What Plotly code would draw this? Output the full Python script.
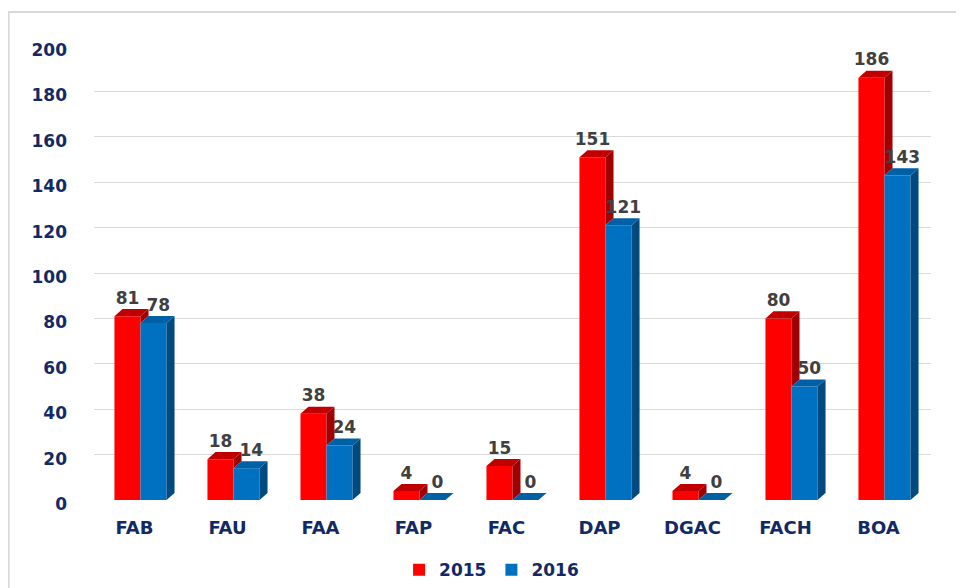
import plotly.graph_objects as go

categories = ["FAB", "FAU", "FAA", "FAP", "FAC", "DAP", "DGAC", "FACH", "BOA"]
series_names = ["2015", "2016"]
values_2015 = [81, 18, 38, 4, 15, 151, 4, 80, 186]
values_2016 = [78, 14, 24, 0, 0, 121, 0, 50, 143]
y_ticks = [0, 20, 40, 60, 80, 100, 120, 140, 160, 180, 200]

W = 0.28    # bar front width (category units)
DX = 0.086  # depth, x
DY = 3.1    # depth, y (value units)
LABEL_GAP = 0.5

NAVY = "#112A66"
styles = [
    dict(front="#FF0000", top="#C00000", side="#A00000", off=-W, lab=0.0),
    dict(front="#0070C0", top="#0060A6", side="#004A80", off=0.0, lab=DX * 0.6),
]
all_vals = [values_2015, values_2016]

fig = go.Figure()

# front faces as bars
for s, vals in enumerate(all_vals):
    st = styles[s]
    fig.add_trace(go.Bar(
        x=[i + st["off"] + W / 2 for i in range(len(categories))],
        y=vals, width=W, name=series_names[s],
        marker=dict(color=st["front"], line=dict(width=0)),
        hoverinfo="skip", showlegend=True,
    ))

# 3D side and top faces (computed from data)
for s, vals in enumerate(all_vals):
    st = styles[s]
    sx, sy, tx, ty = [], [], [], []
    for i, v in enumerate(vals):
        x0 = i + st["off"]
        x1 = x0 + W
        low = 0
        if s == 0:
            low = values_2016[i]
        if v > low or (s == 1 and v > 0):
            if low > 0:
                sx += [x1, x1 + DX, x1 + DX, x1, x1, None]
                sy += [low, low + DY, v + DY, v, low, None]
            else:
                sx += [x1, x1 + DX, x1 + DX, x1, x1, None]
                sy += [0, DY, v + DY, v, 0, None]
        tx += [x0, x0 + DX, x1 + DX, x1, x0, None]
        ty += [v, v + DY, v + DY, v, v, None]
    fig.add_trace(go.Scatter(x=sx, y=sy, mode="lines", fill="toself",
                             fillcolor=st["side"], line=dict(width=0, color=st["side"]),
                             hoverinfo="skip", showlegend=False))
    fig.add_trace(go.Scatter(x=tx, y=ty, mode="lines", fill="toself",
                             fillcolor=st["top"], line=dict(width=0, color=st["top"]),
                             hoverinfo="skip", showlegend=False))

# data labels
for s, vals in enumerate(all_vals):
    st = styles[s]
    fig.add_trace(go.Scatter(
        x=[i + st["off"] + W / 2 + st["lab"] for i in range(len(categories))],
        y=[v + DY + LABEL_GAP for v in vals],
        mode="text", text=[str(v) for v in vals], textposition="top center",
        textfont=dict(family="DejaVu Sans", size=17, color="#404040", weight="bold"),
        hoverinfo="skip", showlegend=False,
    ))

fig.update_layout(
    width=964, height=588,
    margin=dict(l=85.5, r=40.5, t=38, b=96, autoexpand=False),
    paper_bgcolor="white", plot_bgcolor="white",
    barmode="overlay",
    showlegend=True,
    legend=dict(orientation="h", x=0.475, xanchor="center",
                yref="container", y=0.044, yanchor="middle",
                itemwidth=30,
                font=dict(family="DejaVu Sans", size=17, color=NAVY, weight="bold"),
                traceorder="normal"),
    xaxis=dict(range=[-0.5, len(categories) - 0.5], automargin=False,
               tickvals=list(range(len(categories))), ticktext=categories,
               showgrid=False, zeroline=False, showline=False, ticks="",
               ticklabelstandoff=15, ticklabelshift=-6,
               tickfont=dict(family="DejaVu Sans", size=18, color=NAVY, weight="bold")),
    yaxis=dict(range=[0, 200], tickvals=y_ticks, showgrid=True, gridcolor="#D9D9D9",
               gridwidth=1, zeroline=False, showline=False, ticks="", automargin=False,
               ticklabelstandoff=26, ticklabelshift=4,
               tickfont=dict(family="DejaVu Sans", size=17, color=NAVY, weight="bold")),
    shapes=[dict(type="rect", xref="paper", yref="paper",
                 x0=-0.102, x1=1.2, y0=-0.4, y1=1.075,
                 line=dict(color="#D9D9D9", width=2), fillcolor="rgba(0,0,0,0)",
                 layer="below")],
)

fig.write_html("out.html")
